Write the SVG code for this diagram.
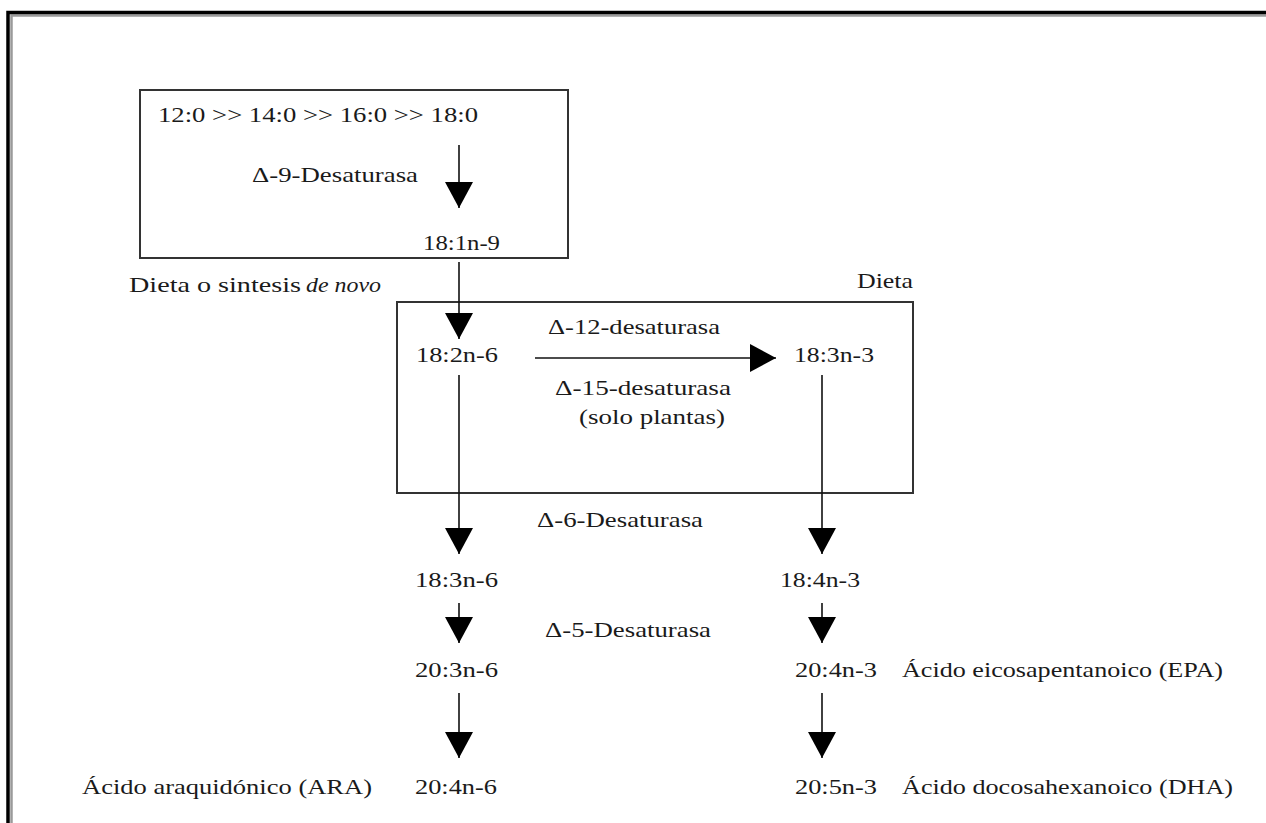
<svg xmlns="http://www.w3.org/2000/svg" width="1266" height="823" viewBox="0 0 1266 823">
  <style>
    .lbl { font-family: "Liberation Serif", "Times New Roman", serif; font-size: 21px; fill: #1a1a1a; }
    .it { font-style: italic; }
    .box { fill: none; stroke: #333; stroke-width: 2; }
    .conn { fill: none; stroke: #111; stroke-width: 1.6; marker-end: url(#head); }
  </style>
  <defs>
    <marker id="head" viewBox="0 0 26 28" refX="26" refY="14" markerWidth="26" markerHeight="28" markerUnits="userSpaceOnUse" orient="auto">
      <path d="M0,0 L26,14 L0,28 Z" fill="#000"/>
    </marker>
  </defs>

  <rect width="1266" height="823" fill="#fff"/>

  <!-- page frame (top and left edges with inner shade) -->
  <g id="frame">
    <path d="M11.5,823 V15.5 H1266" fill="none" stroke="#9a9a9a" stroke-width="2.5"/>
    <path d="M8,823 V12.5 H1266" fill="none" stroke="#000" stroke-width="3.5"/>
  </g>

  <!-- grouping boxes -->
  <g id="box-sintesis"><rect class="box" x="140" y="90" width="428" height="168"/></g>
  <g id="box-dieta"><rect class="box" x="397" y="302" width="516" height="191"/></g>

  <!-- connectors -->
  <g id="connectors">
    <path class="conn" d="M459,145 V208"/>
    <path class="conn" d="M459,262 V339"/>
    <path class="conn" d="M535,358 H776"/>
    <path class="conn" d="M459,375 V554"/>
    <path class="conn" d="M822,375 V554"/>
    <path class="conn" d="M459,603 V643"/>
    <path class="conn" d="M822,603 V643"/>
    <path class="conn" d="M459,693 V758"/>
    <path class="conn" d="M822,693 V758"/>
  </g>

  <!-- labels and nodes -->
  <g id="n-saturados"><text class="lbl" x="158" y="122" textLength="320" lengthAdjust="spacingAndGlyphs">12:0 &gt;&gt; 14:0 &gt;&gt; 16:0 &gt;&gt; 18:0</text></g>
  <g id="e-d9"><text class="lbl" x="252" y="182" textLength="166" lengthAdjust="spacingAndGlyphs">Δ-9-Desaturasa</text></g>
  <g id="n-18-1n9"><text class="lbl" x="423" y="250" textLength="77" lengthAdjust="spacingAndGlyphs">18:1n-9</text></g>
  <g id="t-origen">
    <text class="lbl" x="129" y="292" textLength="172" lengthAdjust="spacingAndGlyphs">Dieta o sintesis</text>
    <text class="lbl it" x="306" y="292" textLength="75" lengthAdjust="spacingAndGlyphs">de novo</text>
  </g>
  <g id="t-dieta"><text class="lbl" x="857" y="288" textLength="56" lengthAdjust="spacingAndGlyphs">Dieta</text></g>
  <g id="n-18-2n6"><text class="lbl" x="416" y="362" textLength="82" lengthAdjust="spacingAndGlyphs">18:2n-6</text></g>
  <g id="n-18-3n3"><text class="lbl" x="794" y="362" textLength="80" lengthAdjust="spacingAndGlyphs">18:3n-3</text></g>
  <g id="e-d12"><text class="lbl" x="548" y="334" textLength="172" lengthAdjust="spacingAndGlyphs">Δ-12-desaturasa</text></g>
  <g id="e-d15">
    <text class="lbl" x="555" y="395" textLength="176" lengthAdjust="spacingAndGlyphs">Δ-15-desaturasa</text>
    <text class="lbl" x="579" y="424" textLength="146" lengthAdjust="spacingAndGlyphs">(solo plantas)</text>
  </g>
  <g id="e-d6"><text class="lbl" x="537" y="527" textLength="166" lengthAdjust="spacingAndGlyphs">Δ-6-Desaturasa</text></g>
  <g id="n-18-3n6"><text class="lbl" x="415" y="587" textLength="83" lengthAdjust="spacingAndGlyphs">18:3n-6</text></g>
  <g id="n-18-4n3"><text class="lbl" x="780" y="587" textLength="80" lengthAdjust="spacingAndGlyphs">18:4n-3</text></g>
  <g id="e-d5"><text class="lbl" x="545" y="637" textLength="166" lengthAdjust="spacingAndGlyphs">Δ-5-Desaturasa</text></g>
  <g id="n-20-3n6"><text class="lbl" x="415" y="677" textLength="83" lengthAdjust="spacingAndGlyphs">20:3n-6</text></g>
  <g id="n-20-4n3">
    <text class="lbl" x="795" y="677" textLength="82" lengthAdjust="spacingAndGlyphs">20:4n-3</text>
    <text class="lbl" x="902" y="677" textLength="321" lengthAdjust="spacingAndGlyphs">Ácido eicosapentanoico (EPA)</text>
  </g>
  <g id="n-20-4n6">
    <text class="lbl" x="82" y="794" textLength="290" lengthAdjust="spacingAndGlyphs">Ácido araquidónico (ARA)</text>
    <text class="lbl" x="415" y="794" textLength="82" lengthAdjust="spacingAndGlyphs">20:4n-6</text>
  </g>
  <g id="n-20-5n3">
    <text class="lbl" x="795" y="794" textLength="82" lengthAdjust="spacingAndGlyphs">20:5n-3</text>
    <text class="lbl" x="902" y="794" textLength="331" lengthAdjust="spacingAndGlyphs">Ácido docosahexanoico (DHA)</text>
  </g>
</svg>
